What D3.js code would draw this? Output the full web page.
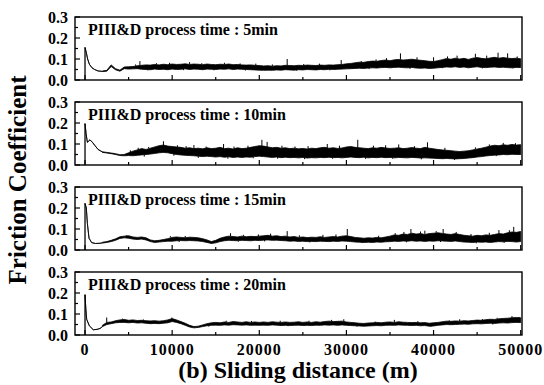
<!DOCTYPE html>
<html><head><meta charset="utf-8">
<script src="https://cdn.jsdelivr.net/npm/d3@7"></script>
<style>
body{margin:0;background:#fff}
svg{display:block}
</style>
</head><body>
<svg id="chart" width="544" height="385"></svg>
<script>
// Friction coefficient vs sliding distance for four PIII&D process times
const panelLabels = ["PIII&D process time : 5min", "PIII&D process time : 10min",
                     "PIII&D process time : 15min", "PIII&D process time : 20min"];
const xTicks = [0, 10000, 20000, 30000, 40000, 50000];
const xMinorTicks = [5000, 15000, 25000, 35000, 45000];
const yTicks = [0.0, 0.1, 0.2, 0.3];
const yMinorTicks = [0.05, 0.15, 0.25];

// running-in transient: [distance (m), coefficient]
const head5  = [[0,0],[0,.155],[150,.13],[300,.10],[500,.075],[800,.058],[1100,.05],[1500,.043],[2000,.041]];
const head10 = [[0,0],[0,.197],[120,.15],[270,.108],[570,.12],[850,.108],[1150,.092],[1500,.074],[2000,.062]];
const head15 = [[0,0],[0,.222],[150,.20],[270,.127],[460,.056],[770,.035],[1200,.031],[1720,.032],[2000,.034]];
const head20 = [[0,0],[0,.192],[100,.12],[190,.075],[490,.044],[950,.025],[1400,.027],[1720,.031],[2000,.040]];

// steady sliding: lower / upper envelope of the signal every 500 m from 2000 m to 50000 m
const lo5 = [.040,.042,.064,.049,.042,.054,.052,.053,.054,.051,.050,.049,.052,.050,.051,.049,.052,.050,.051,.053,
  .050,.052,.051,.049,.052,.051,.050,.052,.051,.053,.050,.052,.051,.050,.049,.048,.047,.046,.047,.046,
  .048,.047,.049,.048,.047,.049,.048,.050,.049,.048,.050,.049,.051,.050,.051,.052,.053,.054,.055,.056,
  .055,.057,.058,.057,.059,.060,.058,.060,.061,.059,.058,.060,.057,.056,.057,.055,.056,.058,.060,.062,
  .061,.063,.060,.062,.058,.061,.063,.060,.059,.061,.062,.060,.061,.059,.058,.060,.059];
const hi5 = [.043,.046,.072,.054,.047,.062,.063,.064,.068,.070,.072,.071,.074,.072,.075,.073,.076,.074,.075,.077,
  .074,.076,.075,.073,.076,.074,.073,.075,.074,.076,.073,.074,.072,.071,.072,.070,.069,.067,.068,.066,
  .068,.067,.070,.069,.068,.070,.069,.071,.070,.069,.071,.070,.072,.071,.073,.074,.077,.079,.082,.085,
  .084,.088,.090,.089,.093,.095,.092,.096,.098,.095,.097,.099,.096,.094,.092,.089,.088,.092,.097,.102,
  .099,.104,.100,.103,.098,.104,.107,.103,.101,.105,.108,.104,.107,.104,.102,.104,.101];

const lo10 = [.060,.057,.054,.050,.045,.044,.045,.044,.046,.048,.050,.052,.055,.058,.060,.058,.054,.050,.048,.046,
  .045,.044,.042,.040,.042,.040,.038,.040,.037,.039,.036,.038,.036,.038,.037,.040,.042,.040,.038,.036,
  .038,.035,.037,.035,.036,.034,.036,.033,.035,.034,.036,.035,.037,.035,.036,.034,.036,.038,.036,.035,
  .037,.034,.036,.035,.037,.035,.036,.034,.036,.035,.034,.036,.035,.033,.034,.033,.032,.031,.030,.031,
  .030,.029,.030,.031,.033,.035,.038,.040,.043,.045,.047,.048,.050,.049,.051,.050,.050];
const hi10 = [.063,.060,.057,.054,.049,.050,.058,.066,.072,.078,.074,.080,.086,.092,.095,.090,.088,.086,.084,.080,
  .082,.078,.080,.077,.082,.078,.080,.084,.078,.080,.076,.082,.078,.080,.084,.088,.092,.090,.086,.082,
  .084,.080,.082,.078,.080,.077,.079,.076,.080,.078,.082,.084,.080,.082,.079,.081,.086,.088,.084,.082,
  .080,.078,.082,.080,.084,.081,.079,.080,.082,.078,.080,.083,.080,.078,.084,.080,.077,.074,.072,.070,
  .068,.066,.064,.066,.068,.072,.076,.080,.085,.090,.094,.092,.096,.094,.098,.095,.097];

const lo15 = [.033,.036,.040,.046,.055,.058,.056,.052,.050,.052,.048,.040,.036,.038,.040,.042,.042,.044,.045,.044,
  .045,.044,.043,.040,.036,.031,.034,.040,.044,.046,.045,.044,.046,.045,.044,.046,.045,.047,.048,.046,
  .047,.045,.044,.042,.043,.041,.042,.040,.041,.040,.042,.041,.040,.042,.041,.043,.042,.040,.038,.037,
  .036,.037,.036,.038,.037,.039,.040,.042,.041,.043,.042,.044,.042,.043,.041,.043,.042,.044,.043,.042,
  .041,.043,.040,.038,.037,.036,.038,.037,.038,.036,.038,.040,.039,.041,.040,.038,.040];
const hi15 = [.037,.040,.046,.053,.063,.066,.068,.062,.060,.062,.058,.048,.044,.046,.050,.054,.060,.062,.060,.058,
  .061,.060,.058,.054,.048,.040,.046,.056,.062,.066,.064,.062,.066,.063,.065,.064,.066,.068,.070,.066,
  .068,.064,.066,.062,.064,.060,.062,.059,.061,.060,.063,.060,.062,.064,.062,.066,.068,.064,.060,.058,
  .056,.058,.057,.060,.058,.062,.066,.072,.070,.076,.074,.080,.076,.078,.074,.078,.080,.082,.079,.076,
  .074,.078,.074,.070,.068,.066,.070,.068,.072,.070,.074,.078,.076,.082,.086,.084,.088];

const lo20 = [.040,.050,.054,.058,.060,.060,.058,.060,.057,.058,.056,.054,.055,.054,.056,.058,.064,.060,.054,.046,
  .038,.034,.036,.040,.044,.046,.047,.046,.048,.047,.049,.048,.047,.048,.046,.047,.046,.047,.046,.048,
  .047,.045,.046,.045,.046,.047,.045,.046,.045,.047,.046,.048,.047,.048,.046,.048,.046,.045,.044,.043,
  .042,.043,.044,.045,.044,.046,.047,.046,.048,.047,.046,.045,.046,.044,.045,.042,.043,.046,.048,.050,
  .049,.050,.051,.052,.051,.053,.054,.053,.055,.056,.055,.057,.058,.057,.059,.060,.059];
const hi20 = [.046,.060,.062,.068,.072,.074,.070,.072,.069,.070,.068,.067,.068,.066,.068,.072,.078,.072,.064,.056,
  .046,.040,.042,.048,.054,.058,.060,.058,.062,.060,.064,.062,.060,.063,.060,.062,.060,.062,.060,.063,
  .061,.060,.062,.060,.061,.063,.060,.062,.060,.063,.061,.064,.066,.064,.065,.066,.062,.060,.058,.056,
  .055,.057,.058,.060,.058,.061,.062,.060,.063,.061,.060,.059,.060,.058,.059,.056,.058,.060,.063,.066,
  .065,.067,.066,.068,.067,.069,.071,.070,.073,.075,.074,.077,.079,.080,.082,.083,.082];

// isolated excursions beyond the envelope: [distance (m), coefficient]
const spikes5  = [[5800,.074],[6300,.090],[8200,.080],[9700,.082],[12000,.085],[13400,.080],[16000,.082],[17800,.079],
  [19600,.078],[21500,.074],[23200,.100],[25100,.076],[26900,.078],[29400,.095],[31700,.090],[33400,.098],
  [34600,.104],[36200,.127],[38100,.108],[40000,.108],[41600,.112],[42700,.116],[44800,.125],[46100,.116],
  [47400,.130],[48500,.127],[49600,.112]];
const dips5    = [[7200,.046],[11300,.047],[14800,.046],[18400,.045],[24300,.044],[28100,.046],[32600,.052],
  [37300,.053],[41000,.056],[45600,.055],[49100,.055]];
const spikes10 = [[5200,.070],[6100,.082],[7300,.086],[9000,.113],[10600,.094],[11600,.090],[12500,.095],[13900,.088],
  [15900,.100],[17100,.088],[18700,.092],[20300,.120],[20900,.110],[22600,.092],[24100,.088],[25600,.090],
  [27800,.100],[29200,.092],[31300,.120],[33100,.092],[34500,.094],[36000,.098],[37800,.090],[39300,.108],
  [41300,.082],[44800,.084],[46400,.098],[48000,.105],[49400,.104]];
const dips10   = [[6800,.040],[10200,.044],[13000,.034],[16400,.030],[19300,.032],[22100,.030],[25200,.028],
  [28400,.030],[32200,.029],[35300,.030],[38600,.027],[42400,.024],[47200,.042]];
const spikes15 = [[4780,.071],[9800,.066],[11500,.067],[16700,.080],[18200,.072],[19900,.074],[21300,.078],
  [23200,.090],[24600,.070],[27300,.072],[28800,.074],[30100,.100],[33700,.068],[35600,.080],[36600,.086],
  [37400,.100],[38500,.088],[39000,.092],[40300,.090],[41100,.100],[42600,.086],[44300,.076],[46400,.082],
  [47500,.095],[48700,.094],[49200,.110]];
const dips15   = [[10800,.038],[17600,.040],[20600,.041],[25800,.036],[31800,.033],[36900,.037],[40800,.038],
  [44900,.032],[48100,.034]];
const spikes20 = [[2490,.083],[4300,.078],[6700,.074],[9960,.083],[16200,.068],[19100,.067],[22400,.068],
  [25700,.068],[28300,.072],[29700,.075],[33300,.064],[35500,.072],[38200,.066],[41800,.070],[43000,.075],
  [45600,.076],[47300,.082],[49000,.090],[49800,.086]];
const dips20   = [[14200,.040],[23300,.042],[31200,.040],[39700,.039],[46800,.050]];

const bandStart = 2000, bandStep = 500;

const panels = [
  {label: panelLabels[0], head: head5,  lo: lo5,  hi: hi5,  spikes: spikes5,  dips: dips5},
  {label: panelLabels[1], head: head10, lo: lo10, hi: hi10, spikes: spikes10, dips: dips10},
  {label: panelLabels[2], head: head15, lo: lo15, hi: hi15, spikes: spikes15, dips: dips15},
  {label: panelLabels[3], head: head20, lo: lo20, hi: hi20, spikes: spikes20, dips: dips20}
];

const FONT = "Liberation Serif";
const svg = d3.select("#chart");
const left = 75, right = 522;
const panelTops = [17, 102, 187, 272];
const panelH = 63;

const x = d3.scaleLinear().domain([-1150, 50150]).range([left, right]);

function label(sel) {
  return sel.style("font-family", FONT).style("font-weight", "bold").attr("fill", "#000");
}

panels.forEach((p, i) => {
  const top = panelTops[i], bottom = top + panelH;
  const y = d3.scaleLinear().domain([0, 0.3]).range([bottom, top]);
  const g = svg.append("g");

  // series: transient then envelope band
  const pts = p.head.map(([d, v]) => ({d, lo: v, hi: v}));
  p.lo.forEach((v, k) => pts.push({d: bandStart + k * bandStep, lo: v, hi: p.hi[k]}));

  const area = d3.area().x(d => x(d.d)).y0(d => y(d.lo)).y1(d => y(d.hi));
  g.append("path").attr("d", area(pts))
    .attr("fill", "#000").attr("stroke", "#000").attr("stroke-width", 0.8)
    .attr("stroke-linejoin", "round");

  const nearest = d => Math.max(0, Math.min(p.hi.length - 1, Math.round((d - bandStart) / bandStep)));
  g.selectAll(".spike").data(p.spikes).join("line")
    .attr("x1", d => x(d[0])).attr("x2", d => x(d[0]))
    .attr("y1", d => y(Math.min(p.hi[nearest(d[0])], d[1]))).attr("y2", d => y(d[1]))
    .attr("stroke", "#000").attr("stroke-width", 1);
  g.selectAll(".dip").data(p.dips).join("line")
    .attr("x1", d => x(d[0])).attr("x2", d => x(d[0]))
    .attr("y1", d => y(Math.max(p.lo[nearest(d[0])], d[1]))).attr("y2", d => y(d[1]))
    .attr("stroke", "#000").attr("stroke-width", 1);

  // frame
  g.append("rect").attr("x", left).attr("y", top).attr("width", right - left).attr("height", panelH)
    .attr("fill", "none").attr("stroke", "#000").attr("stroke-width", 1.4);

  // inward ticks
  g.selectAll(".xt").data(xTicks).join("line")
    .attr("x1", d => x(d)).attr("x2", d => x(d)).attr("y1", bottom).attr("y2", bottom - 5)
    .attr("stroke", "#000").attr("stroke-width", 1.2);
  g.selectAll(".xm").data(xMinorTicks).join("line")
    .attr("x1", d => x(d)).attr("x2", d => x(d)).attr("y1", bottom).attr("y2", bottom - 3)
    .attr("stroke", "#000").attr("stroke-width", 1.2);
  g.selectAll(".yt").data(yTicks).join("line")
    .attr("x1", left).attr("x2", left + 5).attr("y1", d => y(d)).attr("y2", d => y(d))
    .attr("stroke", "#000").attr("stroke-width", 1.2);
  g.selectAll(".ym").data(yMinorTicks).join("line")
    .attr("x1", left).attr("x2", left + 3).attr("y1", d => y(d)).attr("y2", d => y(d))
    .attr("stroke", "#000").attr("stroke-width", 1.2);

  label(g.selectAll(".yl").data(yTicks).join("text"))
    .attr("x", left - 7).attr("y", d => y(d)).attr("dy", "0.35em")
    .attr("text-anchor", "end").attr("font-size", 16)
    .text(d => d3.format(".1f")(d));

  label(g.append("text")).attr("x", 88).attr("y", top + 18).attr("font-size", 16).text(p.label);

  if (i === panels.length - 1) {
    label(g.selectAll(".xl").data(xTicks).join("text"))
      .attr("x", d => x(d)).attr("y", bottom + 20)
      .attr("text-anchor", "middle").attr("font-size", 16)
      .style("letter-spacing", "1px")
      .text(d => d);
  }
});

label(svg.append("text")).attr("x", 298).attr("y", 378).attr("text-anchor", "middle")
  .attr("font-size", 24).text("(b) Sliding distance (m)");
label(svg.append("text")).attr("transform", "translate(26,180) rotate(-90)")
  .attr("text-anchor", "middle").attr("font-size", 25).text("Friction Coefficient");
</script>
</body></html>
